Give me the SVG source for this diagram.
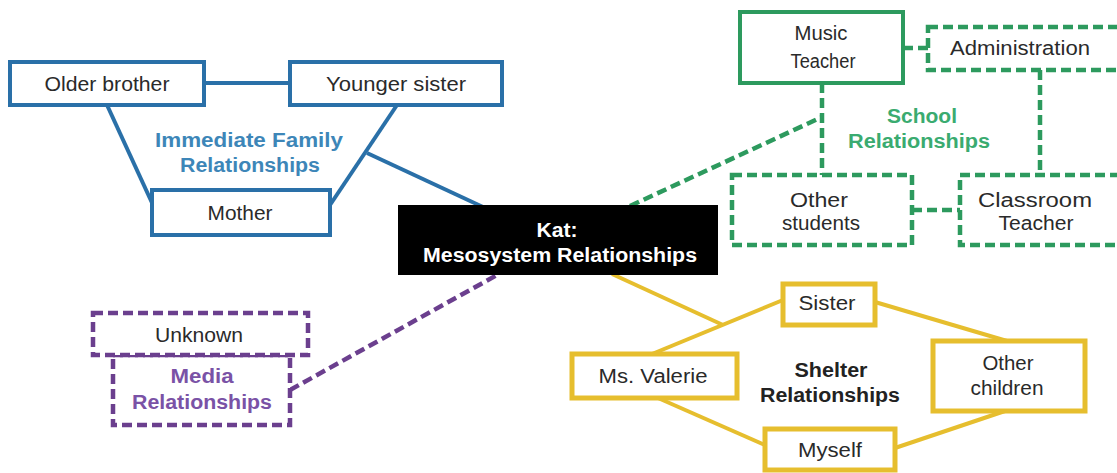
<svg xmlns="http://www.w3.org/2000/svg" width="1117" height="473" viewBox="0 0 1117 473">
<style>
.t{font-family:"Liberation Sans",Arial,sans-serif;font-size:20px;fill:#2a2a2a;text-anchor:middle}
.b{font-family:"Liberation Sans",Arial,sans-serif;font-size:20px;font-weight:bold;text-anchor:middle}
.blue{fill:#fff;stroke:#2a70a8;stroke-width:4}
.green{fill:#fff;stroke:#2d9a5e;stroke-width:4}
.greend{fill:#fff;stroke:#2d9a5e;stroke-width:4.5;stroke-dasharray:10 5}
.yellow{fill:#fff;stroke:#e6be2e;stroke-width:5}
.purpled{fill:#fff;stroke:#6b3f8e;stroke-width:4.5;stroke-dasharray:10 5}
.lb{stroke:#2a70a8;stroke-width:4;fill:none}
.lg{stroke:#2d9a5e;stroke-width:4.5;fill:none;stroke-dasharray:10 5}
.ly{stroke:#e6be2e;stroke-width:4;fill:none}
.lp{stroke:#6b3f8e;stroke-width:4.5;fill:none;stroke-dasharray:10 5}
</style>
<rect x="0" y="0" width="1117" height="473" fill="#fff"/>
<g id="connectors">
<line class="lb" x1="204" y1="83" x2="290" y2="83"/>
<line class="lb" x1="107" y1="105" x2="153" y2="205"/>
<line class="lb" x1="397" y1="105" x2="330" y2="205"/>
<line class="lb" x1="367" y1="153" x2="483" y2="207"/>
<line class="lg" x1="903" y1="48" x2="928" y2="48"/>
<line class="lg" x1="822" y1="83" x2="822" y2="175"/>
<line class="lg" x1="630" y1="206" x2="822" y2="117"/>
<line class="lg" x1="1040" y1="70" x2="1040" y2="175"/>
<line class="lg" x1="912" y1="210" x2="960" y2="210"/>
<line class="ly" x1="612" y1="274" x2="723" y2="325"/>
<line class="ly" x1="783" y1="300" x2="652" y2="354"/>
<line class="ly" x1="875" y1="302" x2="1007" y2="341"/>
<line class="ly" x1="658" y1="398" x2="765" y2="445"/>
<line class="ly" x1="1005" y1="411" x2="895" y2="448"/>
<line class="lp" x1="290" y1="390" x2="497" y2="275"/>
</g>
<g id="older-brother">
<rect class="blue" x="10" y="62" width="194" height="43"/>
<text class="t" x="107" y="91" textLength="125" lengthAdjust="spacingAndGlyphs">Older brother</text>
</g>
<g id="younger-sister">
<rect class="blue" x="290" y="62" width="212" height="43"/>
<text class="t" x="396" y="91" textLength="140" lengthAdjust="spacingAndGlyphs">Younger sister</text>
</g>
<g id="mother">
<rect class="blue" x="152" y="190" width="178" height="45"/>
<text class="t" x="240" y="220" textLength="65" lengthAdjust="spacingAndGlyphs">Mother</text>
</g>
<g id="family-label" fill="#3d86b8">
<text class="b" x="249" y="147" textLength="188" lengthAdjust="spacingAndGlyphs">Immediate Family</text>
<text class="b" x="250" y="172" textLength="140" lengthAdjust="spacingAndGlyphs">Relationships</text>
</g>
<g id="kat">
<rect x="398" y="205" width="320" height="70" fill="#000"/>
<text class="b" x="557" y="237" fill="#fff" textLength="41" lengthAdjust="spacingAndGlyphs">Kat:</text>
<text class="b" x="560" y="262" fill="#fff" textLength="274" lengthAdjust="spacingAndGlyphs">Mesosystem  Relationships</text>
</g>
<g id="music-teacher">
<rect class="green" x="740" y="12" width="163" height="71"/>
<text class="t" x="821" y="40" textLength="53" lengthAdjust="spacingAndGlyphs">Music</text>
<text class="t" x="823" y="68" textLength="65" lengthAdjust="spacingAndGlyphs">Teacher</text>
</g>
<g id="administration">
<rect class="greend" x="928" y="27" width="200" height="43"/>
<text class="t" x="1020" y="55" textLength="140" lengthAdjust="spacingAndGlyphs">Administration</text>
</g>
<g id="school-label" fill="#3aab70">
<text class="b" x="922" y="123" textLength="70" lengthAdjust="spacingAndGlyphs">School</text>
<text class="b" x="919" y="148" textLength="142" lengthAdjust="spacingAndGlyphs">Relationships</text>
</g>
<g id="other-students">
<rect class="greend" x="732" y="175" width="180" height="70"/>
<text class="t" x="819" y="207" textLength="58" lengthAdjust="spacingAndGlyphs">Other</text>
<text class="t" x="821" y="230" textLength="78" lengthAdjust="spacingAndGlyphs">students</text>
</g>
<g id="classroom-teacher">
<rect class="greend" x="960" y="175" width="170" height="70"/>
<text class="t" x="1035" y="207" textLength="114" lengthAdjust="spacingAndGlyphs">Classroom</text>
<text class="t" x="1036" y="230" textLength="75" lengthAdjust="spacingAndGlyphs">Teacher</text>
</g>
<g id="sister">
<rect class="yellow" x="783" y="284" width="92" height="41"/>
<text class="t" x="827" y="310" textLength="57" lengthAdjust="spacingAndGlyphs">Sister</text>
</g>
<g id="ms-valerie">
<rect class="yellow" x="572" y="354" width="165" height="44"/>
<text class="t" x="653" y="383" textLength="109" lengthAdjust="spacingAndGlyphs">Ms. Valerie</text>
</g>
<g id="other-children">
<rect class="yellow" x="933" y="341" width="152" height="70"/>
<text class="t" x="1008" y="370" textLength="51" lengthAdjust="spacingAndGlyphs">Other</text>
<text class="t" x="1007" y="395" textLength="73" lengthAdjust="spacingAndGlyphs">children</text>
</g>
<g id="myself">
<rect class="yellow" x="765" y="429" width="130" height="41"/>
<text class="t" x="830" y="457" textLength="64" lengthAdjust="spacingAndGlyphs">Myself</text>
</g>
<g id="shelter-label" fill="#222">
<text class="b" x="831" y="377" textLength="73" lengthAdjust="spacingAndGlyphs">Shelter</text>
<text class="b" x="830" y="402" textLength="140" lengthAdjust="spacingAndGlyphs">Relationships</text>
</g>
<g id="media">
<rect class="purpled" x="113" y="355" width="177" height="70"/>
<text class="b" x="202" y="383" fill="#7a52a6" textLength="63" lengthAdjust="spacingAndGlyphs">Media</text>
<text class="b" x="202" y="409" fill="#7a52a6" textLength="140" lengthAdjust="spacingAndGlyphs">Relationships</text>
</g>
<g id="unknown">
<rect class="purpled" x="93" y="313" width="215" height="42"/>
<text class="t" x="199" y="342" textLength="88" lengthAdjust="spacingAndGlyphs">Unknown</text>
</g>
</svg>
